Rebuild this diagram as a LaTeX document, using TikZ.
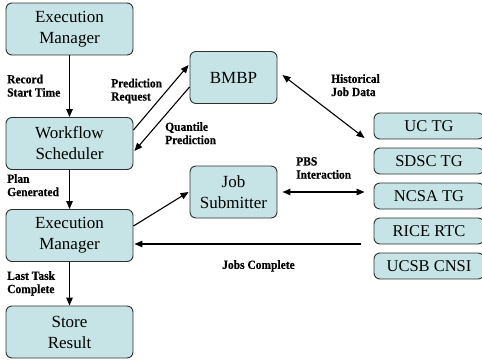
\documentclass[tikz,border=0pt]{standalone}
\usepackage{fontspec}
\setmainfont{Liberation Serif}
\newfontfamily\lblfont[FakeStretch=0.92,FakeBold=0.5]{Liberation Serif}
\usetikzlibrary{arrows.meta}
\definecolor{boxfill}{HTML}{C6E4E6}
\definecolor{boxline}{HTML}{303030}
\tikzset{
  box/.style={draw=boxline, line width=0.9pt, fill=boxfill, rounded corners=6pt,
    align=center, inner sep=0pt, font=\fontsize{17}{21}\selectfont},
  bigbox/.style={box, minimum width=127pt, minimum height=52pt},
  midbox/.style={box, minimum width=87pt, minimum height=52pt},
  sitebox/.style={box, minimum width=110pt, minimum height=26pt, font=\fontsize{16.5}{20}\selectfont},
  arr/.style={line width=1.1pt, -{Triangle[length=8pt,width=6.5pt]}},
  darr/.style={line width=1.1pt, {Triangle[length=8pt,width=6.5pt]}-{Triangle[length=8pt,width=6.5pt]}},
  lbl/.style={anchor=north west, inner sep=0pt, align=left,
    font=\lblfont\bfseries\fontsize{12.5}{13.2}\selectfont}
}
\begin{document}
\begin{tikzpicture}[x=1pt,y=-1pt]
\useasboundingbox (0,0) rectangle (482,362);
\clip (0,0) rectangle (482,362);
\node[bigbox] (em1) at (69.5,29) {Execution\\Manager};
\node[bigbox] (ws) at (69.5,143.5) {Workflow\\Scheduler};
\node[bigbox] (em2) at (69.5,235.5) {Execution\\Manager};
\node[bigbox] (store) at (69.5,332) {Store\\Result};
\node[midbox] (bmbp) at (233.5,77.5) {BMBP};
\node[midbox] (js) at (233.5,192) {Job\\Submitter};
\node[sitebox] (uc) at (429,126) {UC TG};
\node[sitebox] (sdsc) at (429,161) {SDSC TG};
\node[sitebox] (ncsa) at (429,196) {NCSA TG};
\node[sitebox] (rice) at (429,231) {RICE RTC};
\node[sitebox] (ucsb) at (429,266) {UCSB CNSI};
\coordinate (jc) at (361,244);

\draw[arr] (em1) -- (ws);
\draw[arr] (ws) -- (em2);
\draw[arr] (em2) -- (store);
\draw[arr] ([yshift=13.5pt]ws.east) -- ([yshift=12.5pt,xshift=-1pt]bmbp.west);
\draw[arr] ([yshift=-9.5pt]bmbp.west) -- ([yshift=-7.5pt,xshift=1pt]ws.east);
\draw[darr] ([xshift=5pt,yshift=2.5pt]bmbp.east) -- ([xshift=-9pt,yshift=-12pt]uc.west);
\draw[arr] ([yshift=9.5pt]em2.east) -- ([xshift=-1pt]js.west);
\draw[darr] ([xshift=5pt]js.east) -- ([xshift=-9pt]ncsa.west |- js.east);
\draw[arr] (jc) -- ([xshift=1pt]em2.east |- jc);

\node[lbl] (l1) at (7,74.5) {Record\\Start Time};
\node[lbl] (l2) at (7,174) {Plan\\Generated};
\node[lbl] (l3) at (7,271) {Last Task\\Complete};
\node[lbl] (l4) at (111,78.5) {Prediction\\Request};
\node[lbl] (l5) at (165,122) {Quantile\\Prediction};
\node[lbl] (l6) at (331,74) {Historical\\Job Data};
\node[lbl] (l7) at (296,157) {PBS\\Interaction};
\node[lbl] (l8) at (222,260) {Jobs Complete};
\end{tikzpicture}
\end{document}
